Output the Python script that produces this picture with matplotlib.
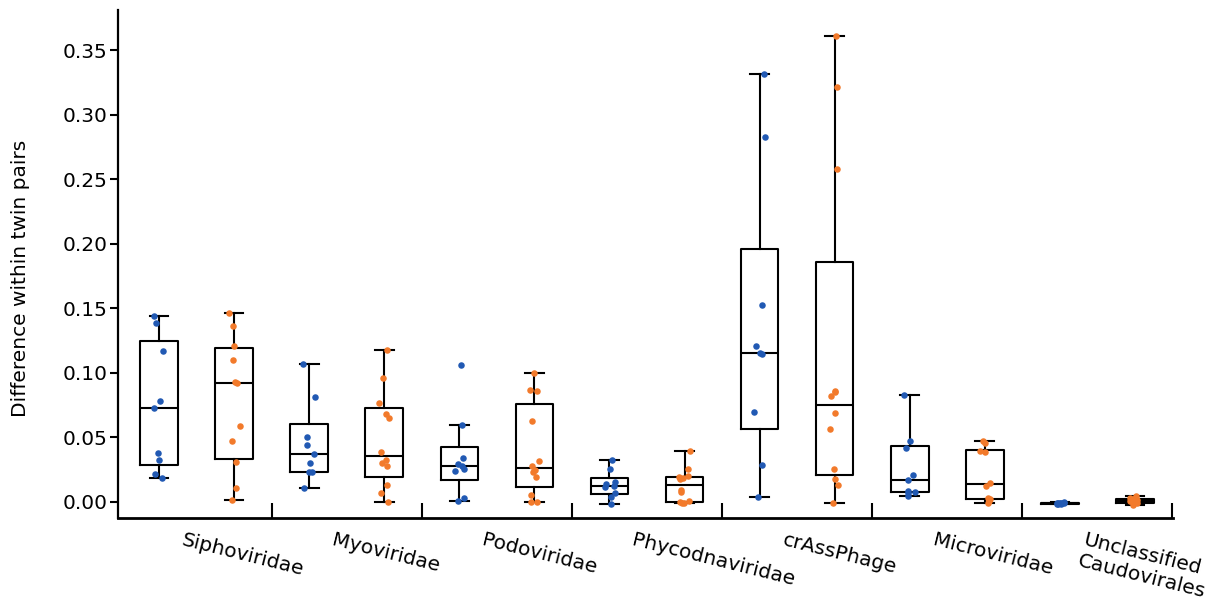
import numpy as np
import matplotlib
matplotlib.use("Agg")
import matplotlib.pyplot as plt
from matplotlib import transforms

# per-family differences within twin pairs, two groups per family
families = ["Siphoviridae", "Myoviridae", "Podoviridae", "Phycodnaviridae",
            "crAssPhage", "Microviridae", "Unclassified\nCaudovirales"]

sipho_blue = [0.144, 0.139, 0.117, 0.078, 0.073, 0.038, 0.0325, 0.022, 0.0188]
sipho_orange = [0.1463, 0.1362, 0.1207, 0.1097, 0.0931, 0.0918, 0.0588, 0.0472,
                0.0307, 0.0108, 0.0013]
myo_blue = [0.1068, 0.081, 0.050, 0.0439, 0.0372, 0.030, 0.023, 0.023, 0.0108]
myo_orange = [0.1179, 0.0957, 0.0766, 0.0683, 0.0648, 0.0387, 0.0328, 0.030,
              0.0279, 0.0132, 0.0072, 0.0]
podo_blue = [0.1058, 0.0598, 0.0343, 0.0294, 0.0279, 0.0253, 0.0237, 0.0031, 0.001]
podo_orange = [0.0998, 0.0867, 0.0857, 0.0629, 0.032, 0.0279, 0.0248, 0.0235,
               0.0191, 0.0057, 0.0002, 0.0]
phyco_blue = [0.0325, 0.0253, 0.0157, 0.0137, 0.0126, 0.0118, 0.0072, 0.004, -0.0018]
phyco_orange = [0.0395, 0.0255, 0.0200, 0.0192, 0.0185, 0.0176, 0.0093, 0.008,
                0.0008, 0.0, -0.0005, -0.001]
crass_blue = [0.3313, 0.2825, 0.1522, 0.1207, 0.1151, 0.1146, 0.0699, 0.0289, 0.0036]
crass_orange = [0.3609, 0.321, 0.2577, 0.0859, 0.0851, 0.0823, 0.0686, 0.0567,
                0.0255, 0.0178, 0.0134, -0.001]
micro_blue = [0.083, 0.0474, 0.0415, 0.0209, 0.017, 0.0087, 0.0077, 0.0072, 0.0046]
micro_orange = [0.0472, 0.0459, 0.0397, 0.0387, 0.0149, 0.0124, 0.0029, 0.0021,
                0.001, -0.0005]
uncl_blue = [-0.0004, -0.0008, -0.001, -0.0011, -0.0012, -0.0013, -0.0015,
             -0.0009, -0.0007]
uncl_orange = [0.005, 0.003, 0.0025, 0.002, 0.0015, 0.001, 0.0005, 0.0,
               -0.0005, -0.001, -0.002]

blue_groups = [sipho_blue, myo_blue, podo_blue, phyco_blue, crass_blue,
               micro_blue, uncl_blue]
orange_groups = [sipho_orange, myo_orange, podo_orange, phyco_orange,
                 crass_orange, micro_orange, uncl_orange]

BLUE = "#2159b3"
ORANGE = "#f27a2b"


def box_stats(vals):
    v = np.asarray(vals)
    q1, med, q3 = np.percentile(v, [25, 50, 75], method="median_unbiased")
    iqr = q3 - q1
    lo = v[v >= q1 - 1.5 * iqr].min()
    hi = v[v <= q3 + 1.5 * iqr].max()
    return dict(med=med, q1=q1, q3=q3, whislo=lo, whishi=hi, fliers=[])


plt.rcParams["font.family"] = "DejaVu Sans"
fig = plt.figure(figsize=(12.17, 6.04), dpi=100)
ax = fig.add_axes([0.097, 0.1424, 0.8668, 0.841])

rng = np.random.default_rng(3)
offset = 0.25
line = dict(color="black", linewidth=1.5)

for i, (b, o) in enumerate(zip(blue_groups, orange_groups)):
    for vals, pos, col in ((b, i - offset, BLUE), (o, i + offset, ORANGE)):
        ax.bxp([box_stats(vals)], positions=[pos], widths=0.25,
               showfliers=False, boxprops=line, whiskerprops=line,
               capprops=line, medianprops=line, manage_ticks=False)
        jit = rng.uniform(-0.04, 0.04, len(vals))
        ax.scatter(pos + jit, vals, s=22, color=col, linewidths=0, zorder=3)

ax.set_xlim(-0.523, 6.503)
ax.set_ylim(-0.0124, 0.381)

ax.set_yticks(np.arange(0, 0.351, 0.05))
ax.set_yticklabels([f"{t:.2f}" for t in np.arange(0, 0.351, 0.05)])
ax.tick_params(axis="y", length=6, width=1.5, pad=1.5, labelsize=14.5)
ax.set_ylabel("Difference within twin pairs", fontsize=14.5)
ax.yaxis.set_label_coords(-0.083, 0.472)

# family labels under each pair, separators between families
ax.set_xticks(range(len(families)))
ax.set_xticklabels(families, rotation=-14, ha="left", va="top",
                   rotation_mode="anchor", fontsize=14.5)
ax.set_xticks(np.arange(0.5, 6.6, 1.0), minor=True)
ax.tick_params(axis="x", which="major", length=0, pad=9)
ax.tick_params(axis="x", which="minor", direction="in", length=11, width=1.5)
shift = transforms.ScaledTranslation(-0.12, 0, fig.dpi_scale_trans)
for lab in ax.get_xticklabels():
    lab.set_transform(lab.get_transform() + shift)

for side in ("top", "right"):
    ax.spines[side].set_visible(False)
ax.spines["left"].set_linewidth(1.6)
ax.spines["bottom"].set_linewidth(2.0)

fig.savefig("out.png", dpi=100)
